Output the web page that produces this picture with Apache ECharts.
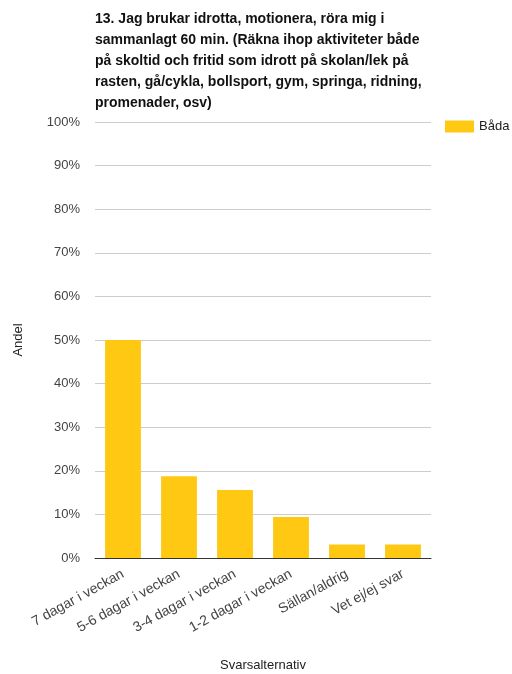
<!DOCTYPE html>
<html><head><meta charset="utf-8">
<script src="https://cdn.jsdelivr.net/npm/echarts@6/dist/echarts.min.js"></script>
<style>html,body{margin:0;padding:0;background:#fff}#c{width:512px;height:674px}</style>
</head><body><div id="c"></div>
<script>
const titleText = "13. Jag brukar idrotta, motionera, röra mig i\nsammanlagt 60 min. (Räkna ihop aktiviteter både\npå skoltid och fritid som idrott på skolan/lek på\nrasten, gå/cykla, bollsport, gym, springa, ridning,\npromenader, osv)";
const categories = ["7 dagar i veckan","5-6 dagar i veckan","3-4 dagar i veckan","1-2 dagar i veckan","Sällan/aldrig","Vet ej/ej svar"];
const seriesName = "Båda";
const values = [50, 18.75, 15.6, 9.4, 3.1, 3.1];
const yTicks = [0,10,20,30,40,50,60,70,80,90,100];

const chart = echarts.init(document.getElementById('c'));
chart.setOption({
  animation: false,
  textStyle: {fontFamily: 'Liberation Sans, Arial, sans-serif'},
  title: {
    text: titleText, left: 90, top: 4,
    textStyle: {fontSize: 14, fontWeight: 'bold', color: '#111', lineHeight: 21, fontFamily: 'Liberation Sans, Arial, sans-serif'}
  },
  legend: {
    data: [seriesName], left: 440, top: 115, itemWidth: 29, itemHeight: 12, itemGap: 5,
    icon: 'rect',
    textStyle: {fontSize: 13, color: '#222'}
  },
  grid: {left: 95, right: 81, top: 122, bottom: 116, outerBoundsMode: 'none', containLabel: false},
  xAxis: {
    type: 'category', data: categories,
    name: 'Svarsalternativ', nameLocation: 'middle', nameGap: 101,
    nameTextStyle: {fontSize: 13, color: '#222'},
    axisLine: {lineStyle: {color: '#333', width: 1}},
    axisTick: {show: false},
    axisLabel: {rotate: 29, fontSize: 14, color: '#444', margin: 15, interval: 0}
  },
  yAxis: {
    type: 'value', min: 0, max: 100, interval: 10,
    name: 'Andel', nameLocation: 'middle', nameGap: 70,
    nameTextStyle: {fontSize: 13, color: '#222'},
    axisLabel: {formatter: v => yTicks.includes(v) ? v + '%' : '', fontSize: 13, color: '#444', margin: 15},
    splitLine: {lineStyle: {color: '#ccc'}},
    axisLine: {show: false}, axisTick: {show: false}
  },
  series: [{
    name: seriesName, type: 'bar', data: values,
    barCategoryGap: '36%',
    itemStyle: {color: '#ffc813'}
  }]
});
</script></body></html>
